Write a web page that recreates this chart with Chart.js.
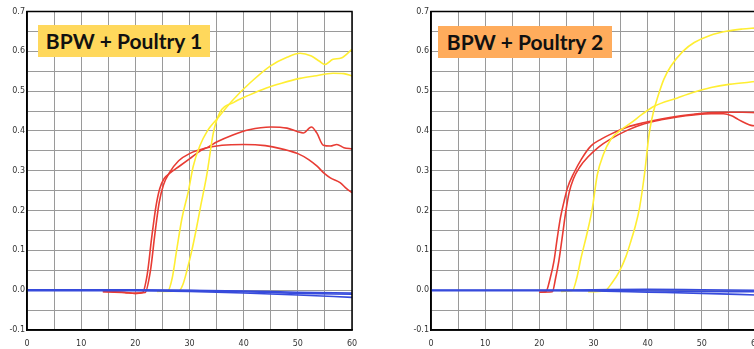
<!DOCTYPE html>
<html>
<head>
<meta charset="utf-8">
<script src="https://cdn.jsdelivr.net/npm/chart.js@4/dist/chart.umd.min.js"></script>
<style>
  body { margin: 0; width: 754px; height: 349px; overflow: hidden; background: #fff; position: relative; }
  .painel { position: absolute; top: 0; width: 377px; height: 349px; }
  .titulo { position: absolute; height: 32px; line-height: 32px; text-align: center;
            font-family: "Lato", sans-serif; font-weight: 700; font-size: 21px; color: #111; }
</style>
</head>
<body>

<div class="painel" style="left:0px"><canvas id="grafico1" width="377" height="349"></canvas></div>
<div class="painel" style="left:404px"><canvas id="grafico2" width="377" height="349"></canvas></div>
<div class="titulo" style="left:38px; top:25px; width:172px; background:#ffd85c;">BPW + Poultry 1</div>
<div class="titulo" style="left:438px; top:26px; width:174px; background:#ffac5c;">BPW + Poultry 2</div>

<script>
// dados: tempo (x) e absorbância (y)

// painel 1 - BPW + Poultry 1
const p1VermAX = [14, 18, 20, 21.3, 22.2, 23, 23.8, 24.5, 25.3, 26.5, 28, 30, 32, 33.5, 35, 38, 41, 45, 48, 50, 51, 52.5, 53.5, 54.7, 56, 57.2, 58.5, 60];
const p1VermAY = [-0.004, -0.006, -0.008, -0.006, 0.04, 0.13, 0.21, 0.255, 0.28, 0.295, 0.31, 0.33, 0.35, 0.36, 0.372, 0.39, 0.403, 0.41, 0.407, 0.398, 0.395, 0.41, 0.395, 0.364, 0.362, 0.366, 0.358, 0.355];
const p1VermBX = [14, 18, 20, 21.8, 22.8, 23.6, 24.4, 25.2, 26.3, 28, 30, 33, 36, 40, 44, 47, 50, 52, 53.5, 55, 56, 57.8, 59, 60];
const p1VermBY = [-0.003, -0.005, -0.008, -0.006, 0.05, 0.14, 0.22, 0.265, 0.295, 0.325, 0.343, 0.357, 0.364, 0.366, 0.363, 0.355, 0.343, 0.328, 0.312, 0.292, 0.282, 0.27, 0.255, 0.245];
const p1AmarAX = [24, 26, 26.8, 27.6, 28.6, 29.8, 30.7, 31.9, 33.3, 35, 38.1, 41.2, 44.9, 48, 50.4, 52.5, 54, 55, 56.5, 58, 60];
const p1AmarAY = [-0.003, -0.002, 0.03, 0.098, 0.18, 0.249, 0.312, 0.362, 0.4, 0.429, 0.479, 0.521, 0.563, 0.585, 0.595, 0.588, 0.575, 0.567, 0.58, 0.583, 0.605];
const p1AmarBX = [25, 28, 28.8, 29.5, 30.4, 31.2, 32, 33.2, 34.4, 35.6, 38.1, 41, 44.2, 47, 50.4, 53, 56.5, 58.5, 60];
const p1AmarBY = [-0.003, -0.002, 0.015, 0.048, 0.098, 0.15, 0.207, 0.29, 0.395, 0.446, 0.471, 0.49, 0.508, 0.52, 0.532, 0.538, 0.545, 0.544, 0.538];
const p1AzulX = [0, 10, 20, 30, 40, 50, 60];
const p1AzulAY = [0.0, 0.0, 0.0, -0.001, -0.004, -0.008, -0.01];
const p1AzulBY = [-0.001, -0.001, -0.001, -0.003, -0.007, -0.012, -0.018];
const p1AzulCY = [0.001, 0.001, 0.001, 0.0, -0.002, -0.005, -0.007];

// painel 2 - BPW + Poultry 2
const p2VermAX = [20, 21.2, 22, 22.7, 23.3, 23.9, 24.6, 25.2, 26.4, 27.8, 29.5, 31.5, 33.2, 36.3, 39.4, 42.5, 45.5, 48.5, 51.7, 54.8, 57.5, 60];
const p2VermAY = [-0.005, -0.004, 0.03, 0.073, 0.13, 0.182, 0.225, 0.257, 0.295, 0.33, 0.362, 0.38, 0.392, 0.41, 0.421, 0.43, 0.437, 0.442, 0.446, 0.447, 0.447, 0.446];
const p2VermBX = [20, 22.4, 23, 23.6, 24.2, 24.8, 25.5, 26.3, 27.5, 29, 31, 33.2, 36.3, 39.4, 42.5, 45.5, 48.5, 51.7, 54, 55.5, 56.7, 58, 59.1, 60];
const p2VermBY = [-0.005, -0.004, 0.03, 0.073, 0.13, 0.19, 0.245, 0.28, 0.31, 0.335, 0.36, 0.38, 0.402, 0.418, 0.428, 0.435, 0.44, 0.443, 0.443, 0.438, 0.429, 0.42, 0.414, 0.413];
const p2AmarAX = [24, 26.1, 26.9, 27.7, 28.9, 29.8, 30.7, 31.8, 33.2, 35, 36.9, 39, 41.2, 45.5, 48.5, 51.7, 55, 60];
const p2AmarAY = [-0.003, -0.001, 0.03, 0.081, 0.148, 0.207, 0.29, 0.34, 0.379, 0.402, 0.42, 0.442, 0.462, 0.483, 0.497, 0.509, 0.517, 0.524];
const p2AmarBX = [29, 32, 33.5, 34.8, 36, 36.9, 37.8, 38.5, 39.4, 40.3, 41.1, 41.9, 43, 44.3, 46.5, 48.6, 51.5, 54.8, 57.5, 60];
const p2AmarBY = [-0.004, -0.002, 0.02, 0.048, 0.085, 0.123, 0.165, 0.207, 0.29, 0.395, 0.45, 0.487, 0.53, 0.563, 0.6, 0.622, 0.64, 0.651, 0.656, 0.659];
const p2AzulX = [0, 10, 20, 30, 40, 50, 60];
const p2AzulAY = [0.0, 0.0, 0.0, 0.001, 0.002, 0.001, 0.0];
const p2AzulBY = [-0.001, -0.001, -0.001, -0.002, -0.005, -0.008, -0.012];
const p2AzulCY = [0.0, 0.0, 0.0, 0.0, -0.002, -0.003, -0.004];

const corVermelho = "rgb(232, 60, 52)";
const corAmarelo = "rgb(255, 238, 50)";
const corAzul = "rgb(55, 75, 220)";

// junta x e y em pontos
function pontos(xs, ys) {
    return xs.map((x, i) => ({ x: x, y: ys[i] }));
}

function serie(xs, ys, cor) {
    return {
        data: pontos(xs, ys),
        borderColor: cor,
        borderWidth: 1.6,
        pointRadius: 0,
        cubicInterpolationMode: "monotone",
        fill: false
    };
}

// rótulo do eixo y, evitando o "-0.0"
function rotuloY(v) {
    const d = Math.round(v * 100);
    if (d % 10 !== 0) return "";
    const r = d / 100;
    return (r === 0 ? 0 : r).toFixed(1);
}

// desenha a moldura preta em volta da área do gráfico
const moldura = {
    id: "moldura",
    afterDatasetsDraw(chart) {
        const a = chart.chartArea;
        const ctx = chart.ctx;
        ctx.save();
        ctx.strokeStyle = "#000";
        ctx.lineWidth = 1.5;
        ctx.strokeRect(a.left, a.top, a.right - a.left, a.bottom - a.top);
        ctx.restore();
    }
};

function criarGrafico(id, datasets) {
    const ctx = document.getElementById(id).getContext("2d");
    return new Chart(ctx, {
        type: "line",
        data: { datasets: datasets },
        options: {
            responsive: false,
            animation: false,
            layout: { padding: { top: 11.5, right: 25, left: 0, bottom: 0 } },
            plugins: { legend: { display: false }, tooltip: { enabled: false } },
            scales: {
                x: {
                    type: "linear",
                    min: 0,
                    max: 60,
                    afterFit: (escala) => { escala.height = 19; },
                    ticks: {
                        stepSize: 5,
                        padding: 9,
                        autoSkip: false,
                        maxRotation: 0,
                        color: "#333",
                        font: { family: "DejaVu Sans", size: 8 },
                        callback: (v) => (v % 10 === 0 ? String(v) : "")
                    },
                    grid: { color: "#9a9a9a", lineWidth: 1, drawTicks: false },
                    border: { color: "#000", width: 1.5 }
                },
                y: {
                    min: -0.1,
                    max: 0.7,
                    afterFit: (escala) => { escala.width = 27; },
                    ticks: {
                        stepSize: 0.05,
                        padding: 2,
                        autoSkip: false,
                        color: "#333",
                        font: { family: "DejaVu Sans", size: 8 },
                        callback: rotuloY
                    },
                    grid: { color: "#9a9a9a", lineWidth: 1, drawTicks: false },
                    border: { color: "#000", width: 1.5 }
                }
            }
        },
        plugins: [moldura]
    });
}

criarGrafico("grafico1", [
    serie(p1AzulX, p1AzulAY, corAzul),
    serie(p1AzulX, p1AzulBY, corAzul),
    serie(p1AzulX, p1AzulCY, corAzul),
    serie(p1AmarAX, p1AmarAY, corAmarelo),
    serie(p1AmarBX, p1AmarBY, corAmarelo),
    serie(p1VermAX, p1VermAY, corVermelho),
    serie(p1VermBX, p1VermBY, corVermelho)
]);

criarGrafico("grafico2", [
    serie(p2AzulX, p2AzulAY, corAzul),
    serie(p2AzulX, p2AzulBY, corAzul),
    serie(p2AzulX, p2AzulCY, corAzul),
    serie(p2AmarAX, p2AmarAY, corAmarelo),
    serie(p2AmarBX, p2AmarBY, corAmarelo),
    serie(p2VermAX, p2VermAY, corVermelho),
    serie(p2VermBX, p2VermBY, corVermelho)
]);
</script>
</body>
</html>
